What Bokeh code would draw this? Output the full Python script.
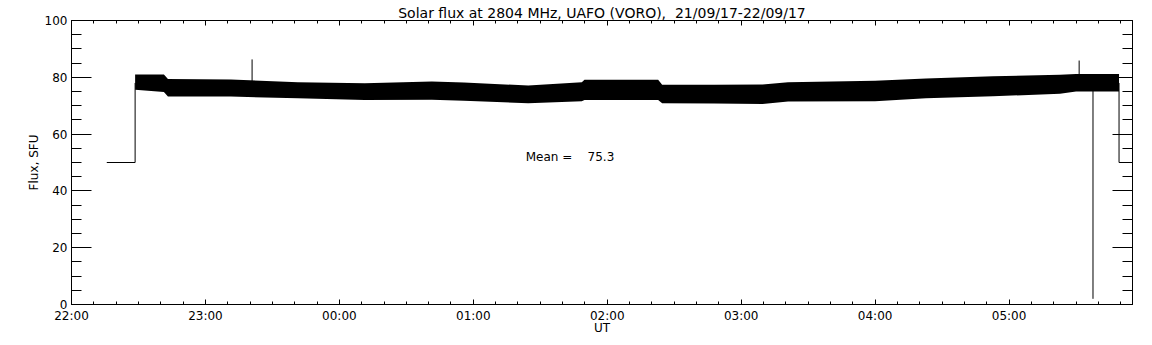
import numpy as np
import pandas as pd
from bokeh.plotting import figure
from bokeh.models import (FixedTicker, SingleIntervalTicker, LinearAxis,
                          DatetimeTickFormatter, Label, Range1d)
from bokeh.embed import file_html
from bokeh.resources import INLINE

# ---------------- data ----------------
TITLE = "Solar flux at 2804 MHz, UAFO (VORO),\u00a0 21/09/17-22/09/17"
X_LABEL = "UT"
Y_LABEL = "Flux, SFU"
MEAN_TEXT = "Mean =\u00a0\u00a0\u00a0 75.3"

x_start = "2017-09-21 22:00:00"
x_end = "2017-09-22 05:55:18"

tick_times = ["2017-09-21 22:00", "2017-09-21 23:00", "2017-09-22 00:00",
              "2017-09-22 01:00", "2017-09-22 02:00", "2017-09-22 03:00",
              "2017-09-22 04:00", "2017-09-22 05:00"]
tick_labels = ["22:00", "23:00", "00:00", "01:00", "02:00", "03:00", "04:00", "05:00"]

# envelope of the noisy flux band (upper / lower), SFU
band_time = ["2017-09-21 22:28:30", "2017-09-21 22:41:24", "2017-09-21 22:43:12",
             "2017-09-21 23:11:24", "2017-09-21 23:41:24", "2017-09-22 00:11:24",
             "2017-09-22 00:41:24", "2017-09-22 00:55:48", "2017-09-22 01:24:36",
             "2017-09-22 01:48:36", "2017-09-22 01:49:48", "2017-09-22 02:22:48",
             "2017-09-22 02:24:36", "2017-09-22 02:48:00", "2017-09-22 03:09:36",
             "2017-09-22 03:21:00", "2017-09-22 04:00:00", "2017-09-22 04:22:48",
             "2017-09-22 04:52:48", "2017-09-22 05:22:48", "2017-09-22 05:30:00",
             "2017-09-22 05:49:16"]
band_upper = [81.0, 81.0, 79.4, 79.2, 78.3, 77.9, 78.5, 78.2, 77.1, 78.3, 79.1,
              79.1, 77.4, 77.4, 77.5, 78.3, 78.8, 79.6, 80.4, 80.9, 81.2, 81.2]
band_lower = [75.6, 74.8, 73.2, 73.2, 72.6, 72.0, 72.1, 71.7, 70.9, 71.6, 72.0,
              72.0, 70.9, 70.8, 70.6, 71.5, 71.6, 72.6, 73.3, 74.2, 75.0, 75.0]

# isolated spikes
spike_time = ["2017-09-21 23:20:54", "2017-09-22 05:31:24", "2017-09-22 05:37:36"]
spike_flux = [86.3, 85.9, 2.0]

# calibration steps before / after the band
pre_time = ["2017-09-21 22:15:48", "2017-09-21 22:28:30", "2017-09-21 22:28:30"]
pre_flux = [50, 50, 78]
post_time = ["2017-09-22 05:49:16", "2017-09-22 05:49:16", "2017-09-22 05:56:00"]
post_flux = [78, 50, 50]

mean_time = "2017-09-22 01:23:30"
mean_flux = 51.8


def ms(s):
    return pd.Timestamp(s).value / 1e6


FONT = "DejaVu Sans"

p = figure(width=1150, height=343, output_backend="svg", toolbar_location=None,
           x_axis_type="datetime", title=TITLE,
           x_range=Range1d(ms(x_start), ms(x_end)), y_range=Range1d(0, 100),
           min_border_left=71, min_border_right=18, min_border_top=20,
           min_border_bottom=39)
p.background_fill_color = "white"
p.border_fill_color = "white"
p.outline_line_color = "black"
p.grid.visible = False
p.title.align = "center"
p.title.text_font = FONT
p.title.text_font_size = "14px"
p.title.text_font_style = "normal"
p.title.text_color = "black"
p.title.standoff = 0
p.title.offset = 0

# ---- data
bt = pd.to_datetime(band_time)
p.varea(x=bt, y1=band_lower, y2=band_upper, fill_color="black")
p.line(x=pd.to_datetime(pre_time), y=pre_flux, line_color="black", line_width=1)
p.line(x=pd.to_datetime(post_time), y=post_flux, line_color="black", line_width=1)
bt_ms = np.array([ms(s) for s in band_time])
st_ms = np.array([ms(s) for s in spike_time])
mid = (np.interp(st_ms, bt_ms, band_upper) + np.interp(st_ms, bt_ms, band_lower)) / 2
p.segment(x0=pd.to_datetime(spike_time), y0=mid, x1=pd.to_datetime(spike_time),
          y1=spike_flux, line_color="black", line_width=1)

# ---- tickers
major = [ms(s) for s in tick_times]
minor = [m + k * 600000 for m in major for k in range(-5, 6)]
xtick = FixedTicker(ticks=major, minor_ticks=sorted(set(minor)))
ytick = SingleIntervalTicker(interval=20, num_minor_ticks=4)
fmt = DatetimeTickFormatter(hours="%H:%M", hourmin="%H:%M", minutes="%H:%M",
                            minsec="%H:%M", days="%H:%M")


def style(ax, tin, tmin):
    ax.axis_line_color = "black"
    ax.major_tick_line_color = "black"
    ax.minor_tick_line_color = "black"
    ax.major_tick_in = tin
    ax.major_tick_out = 0
    ax.minor_tick_in = tmin
    ax.minor_tick_out = 0
    ax.major_label_text_font = FONT
    ax.major_label_text_font_size = "12px"
    ax.major_label_text_color = "black"
    ax.axis_label_text_font = FONT
    ax.axis_label_text_font_size = "12px"
    ax.axis_label_text_font_style = "normal"
    ax.axis_label_text_color = "black"


xa = p.xaxis[0]
xa.ticker = xtick
xa.formatter = fmt
xa.axis_label = X_LABEL
xa.major_label_standoff = 4
xa.axis_label_standoff = -5
style(xa, 5, 3)

ya = p.yaxis[0]
ya.ticker = ytick
ya.axis_label = Y_LABEL
ya.major_label_standoff = 4
ya.axis_label_standoff = 1
style(ya, 20, 10)

top = LinearAxis(ticker=xtick)
style(top, 5, 3)
top.major_label_text_font_size = "1px"
top.major_label_text_color = None
top.major_label_standoff = 1
p.add_layout(top, "above")

right = LinearAxis(ticker=ytick)
style(right, 20, 10)
right.major_label_text_font_size = "1px"
right.major_label_text_color = None
right.major_label_standoff = 0
p.add_layout(right, "right")

# ---- texts
p.add_layout(Label(x=ms(mean_time), y=mean_flux, text=MEAN_TEXT,
                   text_align="left", text_baseline="middle",
                   text_font=FONT, text_font_size="12px", text_color="black"))

open("out.html", "w").write(file_html(p, INLINE))
